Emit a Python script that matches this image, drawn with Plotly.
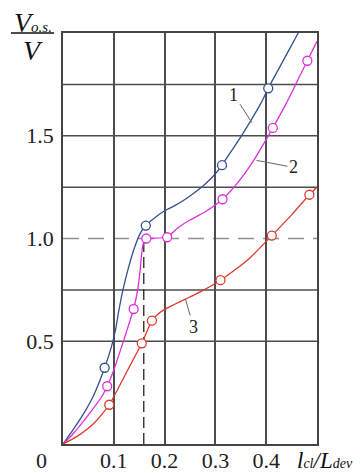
import plotly.graph_objects as go

# Curve 1 (blue) traced points and its circle markers
C1_X = [0.0, 0.020, 0.040, 0.060, 0.082, 0.095, 0.103, 0.110, 0.118, 0.128, 0.140, 0.152, 0.163,
        0.180, 0.200, 0.220, 0.240, 0.260, 0.280, 0.300, 0.313, 0.330, 0.350, 0.370, 0.390,
        0.404, 0.430, 0.463, 0.470]
C1_Y = [0.0, 0.070, 0.145, 0.235, 0.371, 0.470, 0.550, 0.650, 0.750, 0.850, 0.950, 1.025, 1.063,
        1.100, 1.135, 1.160, 1.190, 1.225, 1.265, 1.315, 1.357, 1.420, 1.495, 1.575, 1.660,
        1.731, 1.850, 2.000, 2.035]
M1_X = [0.082, 0.163, 0.313, 0.404]
M1_Y = [0.371, 1.063, 1.357, 1.731]

# Curve 2 (magenta)
C2_X = [0.0, 0.020, 0.040, 0.060, 0.075, 0.087, 0.100, 0.115, 0.128, 0.139, 0.147, 0.152, 0.156,
        0.160, 0.164, 0.205, 0.225, 0.250, 0.280, 0.314, 0.340, 0.370, 0.390, 0.413, 0.440,
        0.460, 0.481, 0.500]
C2_Y = [0.0, 0.050, 0.110, 0.175, 0.225, 0.281, 0.360, 0.470, 0.570, 0.657, 0.750, 0.850, 0.950,
        0.990, 1.000, 1.006, 1.050, 1.090, 1.130, 1.191, 1.260, 1.360, 1.440, 1.538, 1.660,
        1.760, 1.865, 1.960]
M2_X = [0.087, 0.139, 0.164, 0.205, 0.314, 0.413, 0.481]
M2_Y = [0.281, 0.657, 1.0, 1.006, 1.191, 1.538, 1.865]

# Curve 3 (red)
C3_X = [0.0, 0.027, 0.061, 0.091, 0.121, 0.155, 0.175, 0.185, 0.200, 0.220, 0.241, 0.270,
        0.310, 0.340, 0.369, 0.411, 0.450, 0.485, 0.500]
C3_Y = [0.0, 0.036, 0.101, 0.191, 0.330, 0.490, 0.600, 0.628, 0.655, 0.680, 0.705, 0.740,
        0.797, 0.850, 0.908, 1.014, 1.115, 1.213, 1.249]
M3_X = [0.091, 0.155, 0.175, 0.310, 0.411, 0.485]
M3_Y = [0.191, 0.49, 0.60, 0.797, 1.014, 1.213]

X_TICKS = [0.1, 0.2, 0.3, 0.4]
X_LABELS = ["0.1", "0.2", "0.3", "0.4"]
Y_TICKS = [0.5, 1.0, 1.5]
Y_LABELS = ["0.5", "1.0", "1.5"]
Y_GRID = [0.5, 0.75, 1.25, 1.5, 1.75]
REF_LEVEL = 1.0      # dashed horizontal reference
CRIT_X = 0.159       # dashed vertical marker

# Curve number labels: (text, anchor x, anchor y, dx px, dy px)
CURVE_LABELS = [("1", 0.372, 1.563, -18, -28),
                ("2", 0.381, 1.38, 37, 7),
                ("3", 0.241, 0.706, 8, 28)]

SERIF = "Liberation Serif, Times New Roman, Times, serif"
BLUE, MAGENTA, RED = "#34508f", "#dd30dd", "#dc3b2b"
GRID = "#4d4d4d"

fig = go.Figure()

for cx, cy, mx, my, col in [(C1_X, C1_Y, M1_X, M1_Y, BLUE),
                            (C2_X, C2_Y, M2_X, M2_Y, MAGENTA),
                            (C3_X, C3_Y, M3_X, M3_Y, RED)]:
    fig.add_trace(go.Scatter(x=cx, y=cy, mode="lines",
                             line=dict(color=col, width=1.3, shape="spline", smoothing=0.6),
                             hoverinfo="skip", showlegend=False))
    fig.add_trace(go.Scatter(x=mx, y=my, mode="markers",
                             marker=dict(symbol="circle", size=9, color="white",
                                         line=dict(color=col, width=1.3)),
                             showlegend=False, cliponaxis=False))

# dashed reference lines
fig.add_shape(type="line", xref="paper", yref="y", x0=0, x1=1, y0=REF_LEVEL, y1=REF_LEVEL,
              line=dict(color="#8f8f8f", width=1.5, dash="16px,9px"), layer="below")
fig.add_shape(type="line", xref="x", yref="y", x0=CRIT_X, x1=CRIT_X, y0=0, y1=REF_LEVEL,
              line=dict(color="#222222", width=1.3, dash="11px,5px"), layer="below")

# horizontal grid lines
for gy in Y_GRID:
    fig.add_shape(type="line", xref="paper", yref="y", x0=0, x1=1, y0=gy, y1=gy,
                  line=dict(color=GRID, width=1.5), layer="below")

annotations = []
for txt, ax_, ay_, dx, dy in CURVE_LABELS:
    annotations.append(dict(x=ax_, y=ay_, xref="x", yref="y", text=txt, showarrow=True,
                            ax=dx, ay=dy, arrowhead=0, arrowwidth=1, arrowcolor="#666666",
                            standoff=0, font=dict(family=SERIF, size=18, color="#222222")))

# y-axis title as a fraction
annotations.append(dict(x=-0.118, y=1.026, xref="paper", yref="paper", showarrow=False,
                        text="<i>V<span style='font-size:15px'>o.s.</span></i>",
                        xanchor="center", yanchor="middle",
                        font=dict(family=SERIF, size=28, color="#111111")))
annotations.append(dict(x=-0.12, y=0.958, xref="paper", yref="paper", showarrow=False,
                        text="<i>V</i>", xanchor="center", yanchor="middle",
                        font=dict(family=SERIF, size=28, color="#111111")))
fig.add_shape(type="line", xref="paper", yref="paper", x0=-0.205, x1=-0.035, y0=1.0, y1=1.0,
              line=dict(color="#111111", width=1.5))

# origin label and x-axis title
annotations.append(dict(x=-0.083, y=-0.041, xref="paper", yref="paper", showarrow=False,
                        text="0", xanchor="center", yanchor="middle",
                        font=dict(family=SERIF, size=22, color="#222222")))
annotations.append(dict(x=0.913, y=-0.039, xref="paper", yref="paper", showarrow=False,
                        text="<i>l<span style='font-size:14px'>cl</span>/L<span style='font-size:14px'>dev</span></i>",
                        xanchor="left", yanchor="middle",
                        font=dict(family=SERIF, size=23, color="#111111")))

fig.update_layout(
    width=360, height=473,
    margin=dict(l=63, r=43, t=33, b=29),
    paper_bgcolor="white", plot_bgcolor="white",
    annotations=annotations,
    xaxis=dict(range=[0, 0.5], tickmode="array", tickvals=X_TICKS, ticktext=X_LABELS,
               showgrid=True, gridcolor=GRID, gridwidth=1.5, zeroline=False,
               showline=True, mirror=True, linecolor="#444444", linewidth=1.5,
               ticks="", ticklen=0, ticklabelstandoff=-4, automargin=False,
               tickfont=dict(family=SERIF, size=22, color="#222222")),
    yaxis=dict(range=[0, 2.0], tickmode="array", tickvals=Y_TICKS, ticktext=Y_LABELS,
               showgrid=False, zeroline=False,
               showline=True, mirror=True, linecolor="#444444", linewidth=1.5,
               ticks="", ticklen=0, ticklabelstandoff=3, automargin=False,
               tickfont=dict(family=SERIF, size=22, color="#222222")),
)

fig.write_html("out.html")
